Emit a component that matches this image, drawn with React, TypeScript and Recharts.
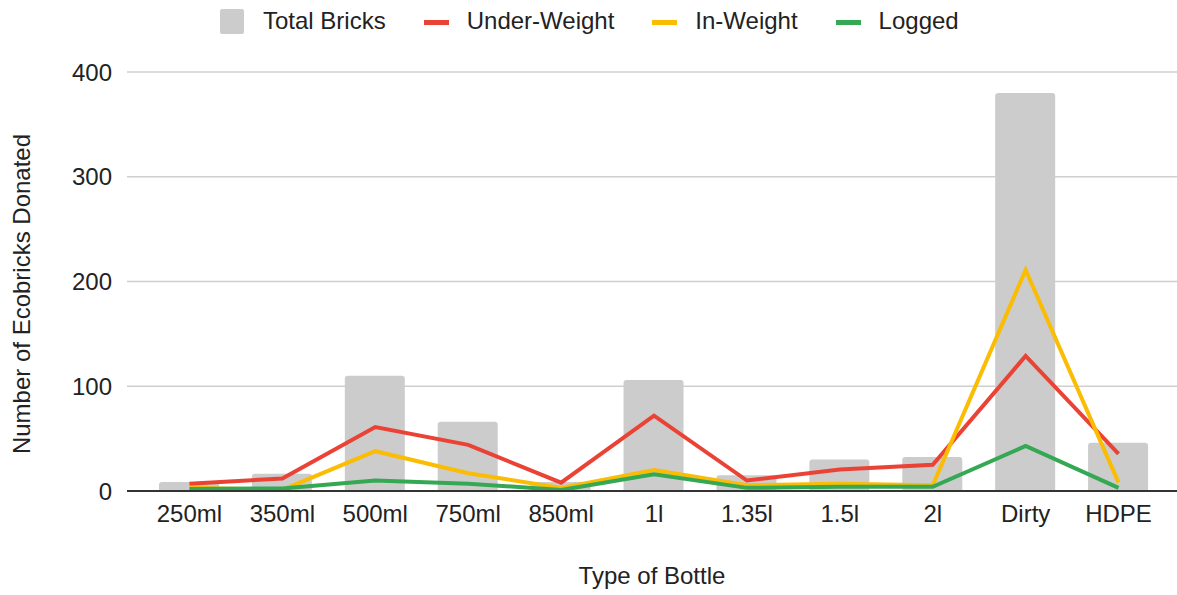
import React from 'react';
import { ComposedChart, Bar, Line, XAxis, YAxis, CartesianGrid } from 'recharts';

const categories = ['250ml', '350ml', '500ml', '750ml', '850ml', '1l', '1.35l', '1.5l', '2l', 'Dirty', 'HDPE'];
const totalBricks = [8.5, 16.5, 110, 66, 8.5, 106, 15, 30, 32.5, 380, 46];
const underWeight = [7, 12, 61, 44, 8, 72, 10, 20.5, 25, 129, 35.5];
const inWeight = [3, 1, 38, 17, 3, 20, 5.5, 7, 5.5, 211, 8];
const logged = [2, 2.5, 10, 7, 1, 16, 3, 4, 4, 43, 3];
const yTicks = [0, 100, 200, 300, 400];

const COLORS = { total: '#cccccc', under: '#ea4335', in: '#fbbc04', logged: '#34a853' };
const FONT = '"Liberation Sans", Arial, Helvetica, sans-serif';
const TEXT = '#222222';

const data = categories.map((c, i) => ({
  name: c,
  total: totalBricks[i],
  under: underWeight[i],
  inw: inWeight[i],
  logged: logged[i],
}));

const legendItems = [
  { label: 'Total Bricks', color: COLORS.total, kind: 'box' },
  { label: 'Under-Weight', color: COLORS.under, kind: 'line' },
  { label: 'In-Weight', color: COLORS.in, kind: 'line' },
  { label: 'Logged', color: COLORS.logged, kind: 'line' },
];

export default function App() {
  return (
    <div style={{ position: 'absolute', left: 0, top: 0, width: 1177, height: 595, background: '#fff', fontFamily: FONT }}>
      <ComposedChart
        width={1177}
        height={595}
        data={data}
        margin={{ top: 72, right: 0, bottom: 0, left: 0 }}
      >
        <CartesianGrid vertical={false} stroke="#cfcfcf" strokeWidth={1.3} />
        <XAxis
          dataKey="name"
          height={104}
          padding={{ left: 16, right: 12 }}
          axisLine={{ stroke: '#333333', strokeWidth: 2 }}
          tickLine={false}
          tickMargin={8}
          tick={{ fill: TEXT, fontSize: 24, fontFamily: FONT }}
          interval={0}
        />
        <YAxis
          width={127}
          domain={[0, 400]}
          ticks={yTicks}
          axisLine={false}
          tickLine={false}
          tickMargin={9}
          tick={{ fill: TEXT, fontSize: 24, fontFamily: FONT }}
        />
        <Bar dataKey="total" name="Total Bricks" fill={COLORS.total} barSize={60} radius={[3, 3, 0, 0]} isAnimationActive={false} />
        <Line dataKey="under" name="Under-Weight" stroke={COLORS.under} strokeWidth={4} dot={false} type="linear" isAnimationActive={false} />
        <Line dataKey="inw" name="In-Weight" stroke={COLORS.in} strokeWidth={4} dot={false} type="linear" isAnimationActive={false} />
        <Line dataKey="logged" name="Logged" stroke={COLORS.logged} strokeWidth={4} dot={false} type="linear" isAnimationActive={false} />
      </ComposedChart>

      {/* Legend */}
      <div style={{ position: 'absolute', left: 220, top: 9, height: 25, display: 'flex', alignItems: 'center', fontSize: 24, color: TEXT, whiteSpace: 'nowrap' }}>
        {legendItems.map((it, i) => (
          <div key={it.label} style={{ display: 'flex', alignItems: 'center', marginRight: i < legendItems.length - 1 ? 38 : 0 }}>
            {it.kind === 'box' ? (
              <div style={{ width: 24, height: 25, background: it.color, borderRadius: 2, marginRight: 19 }} />
            ) : (
              <div style={{ width: 25, height: 5, background: it.color, marginRight: 18, marginTop: 2 }} />
            )}
            <span style={{ lineHeight: '25px', marginTop: -2 }}>{it.label}</span>
          </div>
        ))}
      </div>

      {/* Axis titles */}
      <div style={{ position: 'absolute', left: 0, top: 562, width: 1177, paddingLeft: 127, boxSizing: 'border-box', textAlign: 'center', fontSize: 24, color: TEXT, lineHeight: '28px' }}>
        Type of Bottle
      </div>
      <div style={{ position: 'absolute', left: 22, top: 294, width: 0, height: 0 }}>
        <div style={{ position: 'absolute', transform: 'translate(-50%, -50%) rotate(-90deg)', whiteSpace: 'nowrap', fontSize: 24, color: TEXT, lineHeight: '28px' }}>
          Number of Ecobricks Donated
        </div>
      </div>
    </div>
  );
}
